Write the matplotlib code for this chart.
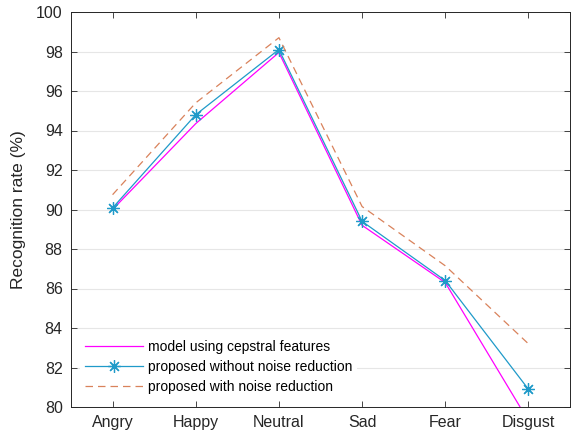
import matplotlib
matplotlib.use("Agg")
import matplotlib.pyplot as plt

categories = ["Angry", "Happy", "Neutral", "Sad", "Fear", "Disgust"]
cepstral = [90.0, 94.35, 97.95, 89.2, 86.3, 79.3]
without_nr = [90.08, 94.8, 98.1, 89.4, 86.4, 80.9]
with_nr = [90.75, 95.4, 98.7, 90.15, 87.15, 83.2]
yticks = [80, 82, 84, 86, 88, 90, 92, 94, 96, 98, 100]

plt.rcParams['font.family'] = ['Liberation Sans', 'DejaVu Sans']
fig = plt.figure(figsize=(5.75, 4.37), dpi=100)
ax = fig.add_axes([71/575, 1 - 407/437, (570-71)/575, (407-12)/437])

x = list(range(1, len(categories) + 1))
ax.plot(x, cepstral, color='#ff00ff', lw=0.9, label='model using cepstral features')
ax.plot(x, without_nr, color='#1f9ac9', lw=0.9, marker=(8, 2, 0), markersize=9,
        markeredgewidth=0.9, label='proposed without noise reduction')
ax.plot(x, with_nr, color='#d9825b', lw=0.9, ls=(0, (6, 4)), label='proposed with noise reduction')

ax.set_xlim(0.5, 6.5)
ax.set_ylim(80, 100)
ax.set_xticks(x)
ax.set_xticklabels(categories)
ax.set_yticks(yticks)
ax.yaxis.grid(True, color='#e6e6e6', lw=0.8)
ax.set_axisbelow(True)
ax.tick_params(direction='in', top=True, right=True, length=4, width=0.6,
               labelsize=11.5, colors='#262626', pad=6)
for s in ax.spines.values():
    s.set_color('#262626')
    s.set_linewidth(0.7)
ax.set_ylabel('Recognition rate (%)', fontsize=12.5, color='#262626', labelpad=7)

leg = ax.legend(loc='lower left', bbox_to_anchor=(0.005, 0.005), frameon=True,
                fontsize=10, handlelength=4.2, borderpad=0.3, labelspacing=0.42,
                handletextpad=0.4)
leg.get_frame().set_edgecolor('none')
leg.get_frame().set_facecolor('white')
leg.get_frame().set_alpha(1)

fig.savefig('out.png', dpi=100)
